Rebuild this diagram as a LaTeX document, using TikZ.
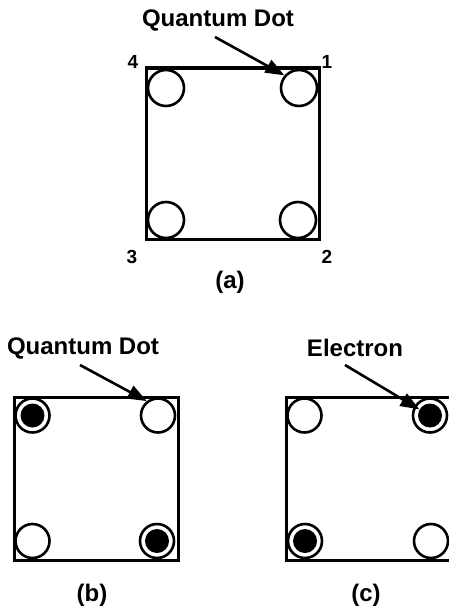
\documentclass[tikz,border=0pt]{standalone}
\usepackage{fontspec}
\setmainfont{Liberation Sans}
\usepackage{tikz}
\usetikzlibrary{arrows.meta}
\tikzset{
  qdbox/.style={draw, line width=3pt, minimum width=#1, minimum height=#1, inner sep=0pt},
  qddot/.style={draw, circle, line width=2.6pt, fill=white, minimum size=#1, inner sep=0pt},
  qdelec/.style={circle, fill=black, minimum size=24pt, inner sep=0pt},
  qdtext/.style={font=\bfseries\fontsize{24}{26}\selectfont, inner sep=0pt},
  qdnum/.style={font=\bfseries\fontsize{19}{21}\selectfont, inner sep=0pt},
  qdarrow/.style={-{Triangle[length=19pt,width=14pt]}, line width=2.6pt}
}
\begin{document}
\begin{tikzpicture}[x=1pt,y=-1pt]
  \useasboundingbox (0,0) rectangle (448,610);
  % (a)
  \node[qdbox=171pt, minimum width=173pt] (sqA) at (232.5,153.5) {};
  \node[qddot=36pt] (a1) at (299,88) {};
  \node[qddot=36pt] (a2) at (298,220) {};
  \node[qddot=36pt] (a3) at (166,220) {};
  \node[qddot=36pt] (a4) at (166,88) {};
  \node[qdnum] (n1) at (327,62) {1};
  \node[qdnum] (n2) at (327,257) {2};
  \node[qdnum] (n3) at (132,257) {3};
  \node[qdnum] (n4) at (133,62) {4};
  \node[qdtext] (qdA) at (218,20) {Quantum Dot};
  \node[qdtext] (capA) at (230,282) {(a)};
  \coordinate (tA) at (215,37);
  \draw[qdarrow] (tA) -- (a1.139);
  % (b)
  \node[qdbox=163pt, minimum width=164pt] (sqB) at (96,478.5) {};
  \node[qddot=34pt] (b1) at (158,415.5) {};
  \node[qddot=34pt] (b2) at (157,541) {};
  \node[qddot=34pt] (b3) at (32.5,541) {};
  \node[qddot=34pt] (b4) at (32.5,415.5) {};
  \node[qdelec] (b2e) at (b2) {};
  \node[qdelec] (b4e) at (b4) {};
  \node[qdtext] (qdB) at (83,348) {Quantum Dot};
  \node[qdtext] (capB) at (92,595) {(b)};
  \coordinate (tB) at (80,365);
  \draw[qdarrow] (tB) -- (b1.128);
  % (c)
  \node[qdbox=163pt, minimum width=164pt] (sqC) at (368,478.5) {};
  \node[qddot=34pt] (c1) at (430,415.5) {};
  \node[qddot=34pt] (c2) at (431,541) {};
  \node[qddot=34pt] (c3) at (305,541) {};
  \node[qddot=34pt] (c4) at (304.5,415.5) {};
  \node[qdelec] (c1e) at (c1) {};
  \node[qdelec] (c3e) at (c3) {};
  \node[qdtext] (elC) at (355,348) {Electron};
  \node[qdtext] (capC) at (366,595) {(c)};
  \coordinate (tC) at (345,365);
  \draw[qdarrow] (tC) -- (c1e.150);
\end{tikzpicture}
\end{document}
